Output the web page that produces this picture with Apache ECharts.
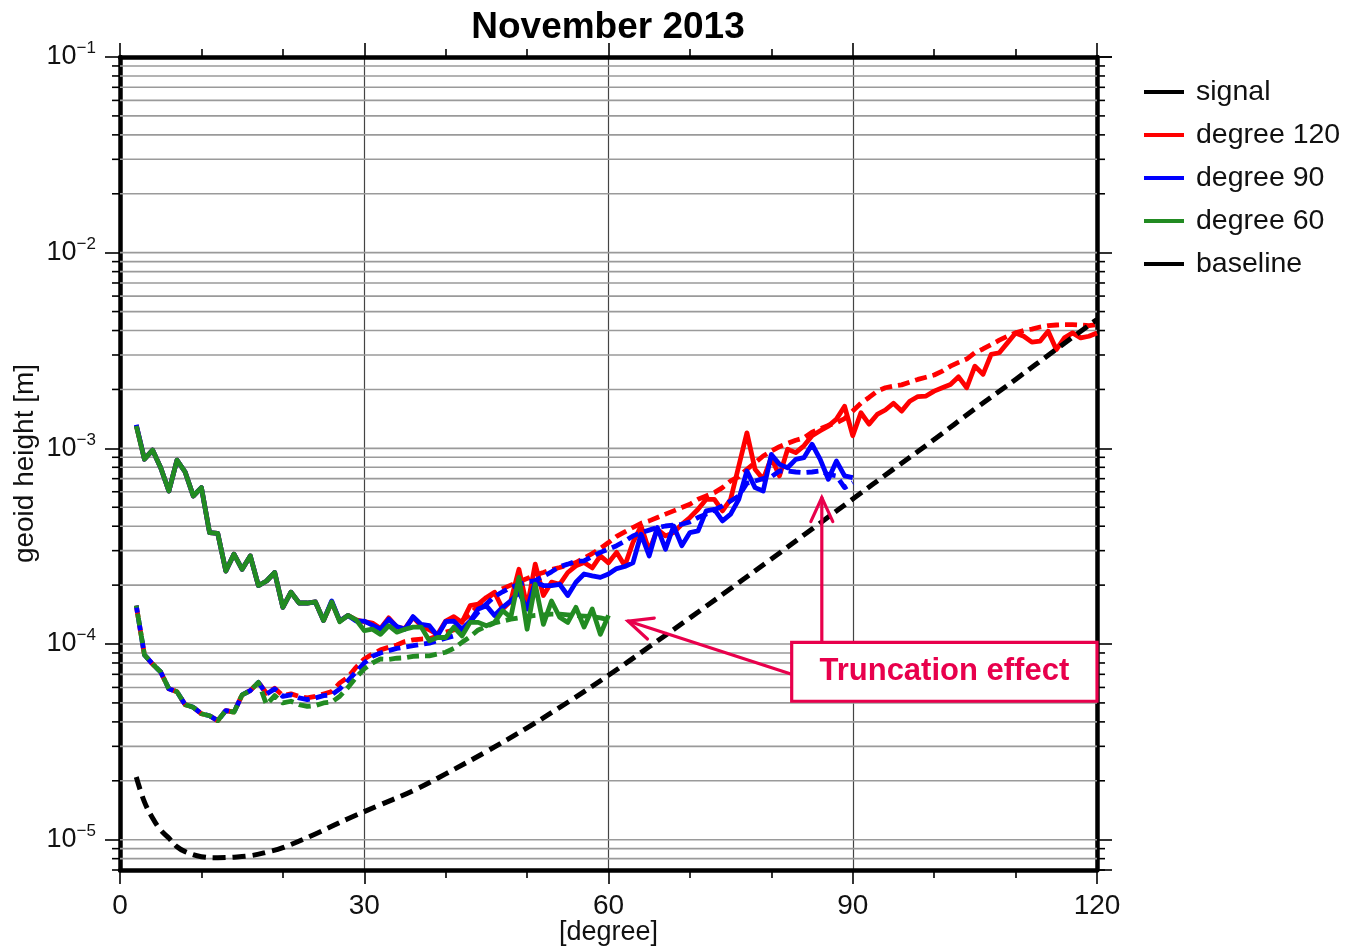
<!DOCTYPE html>
<html><head><meta charset="utf-8">
<script src="https://cdn.jsdelivr.net/npm/echarts@6/dist/echarts.min.js"></script>
<style>html,body{margin:0;padding:0;background:#fff}#chart{width:1345px;height:949px}</style>
</head><body><div id="chart"></div>
<script>
const titleText = 'November 2013';
const xAxisName = '[degree]';
const yAxisName = 'geoid height [m]';
const xTickLabels = ['0', '30', '60', '90', '120'];
const legendNames = ['signal', 'degree 120', 'degree 90', 'degree 60', 'baseline'];
const annotationText = 'Truncation effect';

const DEG_START = 2;
// solid curves (signal) for each truncation degree, values from degree 2
const sig120 = [
  1.31e-3, 8.8e-4, 9.8e-4, 7.96e-4, 6.05e-4, 8.7e-4, 7.57e-4, 5.71e-4,
  6.3e-4, 3.71e-4, 3.68e-4, 2.36e-4, 2.88e-4, 2.41e-4, 2.82e-4, 1.99e-4, 2.1e-4, 2.32e-4,
  1.54e-4, 1.84e-4, 1.62e-4, 1.62e-4, 1.64e-4, 1.32e-4, 1.64e-4, 1.31e-4, 1.40e-4, 1.33e-4,
  1.30e-4, 1.28e-4, 1.20e-4, 1.36e-4, 1.22e-4, 1.20e-4, 1.37e-4, 1.24e-4, 1.18e-4, 1.12e-4,
  1.31e-4, 1.38e-4, 1.29e-4, 1.57e-4, 1.60e-4, 1.73e-4, 1.84e-4, 1.51e-4, 1.66e-4, 2.41e-4,
  1.54e-4, 2.56e-4, 1.77e-4, 2.07e-4, 2.02e-4, 2.32e-4, 2.51e-4, 2.61e-4, 2.45e-4, 2.82e-4,
  2.60e-4, 2.94e-4, 2.51e-4, 3.30e-4, 4.01e-4, 2.99e-4, 3.86e-4, 3.57e-4, 3.71e-4, 4.09e-4,
  4.43e-4, 4.88e-4, 5.49e-4, 5.49e-4, 4.79e-4, 5.49e-4, 8.12e-4, 1.20e-3, 7.82e-4, 6.95e-4,
  8.96e-4, 7.23e-4, 9.89e-4, 9.51e-4, 1.03e-3, 1.16e-3, 1.23e-3, 1.30e-3, 1.41e-3, 1.64e-3,
  1.16e-3, 1.52e-3, 1.33e-3, 1.49e-3, 1.57e-3, 1.70e-3, 1.55e-3, 1.74e-3, 1.84e-3, 1.85e-3,
  1.96e-3, 2.04e-3, 2.12e-3, 2.32e-3, 2.04e-3, 2.63e-3, 2.39e-3, 3.02e-3, 3.08e-3, 3.46e-3,
  3.89e-3, 3.74e-3, 3.49e-3, 3.53e-3, 3.97e-3, 3.20e-3, 3.67e-3, 3.89e-3, 3.67e-3, 3.74e-3, 3.89e-3
];
const err120 = [
  1.57e-4, 8.8e-5, 7.9e-5, 7.2e-5, 5.9e-5, 5.7e-5, 4.9e-5, 4.75e-5,
  4.4e-5, 4.3e-5, 4.06e-5, 4.57e-5, 4.48e-5, 5.5e-5, 5.78e-5, 6.37e-5, 5.6e-5, 5.94e-5,
  5.45e-5, 5.56e-5, 5.4e-5, 5.3e-5, 5.4e-5, 5.55e-5, 5.71e-5, 6.33e-5, 6.76e-5, 7.6e-5,
  8.39e-5, 8.89e-5, 9.33e-5, 9.62e-5, 9.89e-5, 1.03e-4, 1.05e-4, 1.06e-4, 1.065e-4, 1.10e-4,
  1.15e-4, 1.18e-4, 1.31e-4, 1.42e-4, 1.57e-4, 1.70e-4, 1.82e-4, 1.92e-4, 2.00e-4, 2.08e-4,
  2.16e-4, 2.25e-4, 2.32e-4, 2.40e-4, 2.46e-4, 2.53e-4, 2.61e-4, 2.75e-4, 2.90e-4, 3.08e-4,
  3.30e-4, 3.55e-4, 3.74e-4, 3.94e-4, 4.14e-4, 4.26e-4, 4.43e-4, 4.61e-4, 4.79e-4, 4.98e-4,
  5.18e-4, 5.49e-4, 5.71e-4, 5.94e-4, 6.30e-4, 6.81e-4, 7.16e-4, 7.81e-4, 8.45e-4, 9.14e-4,
  9.69e-4, 1.02e-3, 1.06e-3, 1.10e-3, 1.13e-3, 1.21e-3, 1.26e-3, 1.31e-3, 1.35e-3, 1.42e-3,
  1.55e-3, 1.70e-3, 1.82e-3, 1.96e-3, 2.04e-3, 2.08e-3, 2.11e-3, 2.18e-3, 2.25e-3, 2.31e-3,
  2.37e-3, 2.48e-3, 2.63e-3, 2.75e-3, 2.86e-3, 3.08e-3, 3.22e-3, 3.39e-3, 3.57e-3, 3.74e-3,
  3.89e-3, 4.00e-3, 4.07e-3, 4.17e-3, 4.24e-3, 4.27e-3, 4.29e-3, 4.29e-3, 4.27e-3, 4.24e-3, 4.29e-3
];
const sig90 = [
  1.32e-3, 8.8e-4, 9.8e-4, 7.96e-4, 6.05e-4, 8.7e-4, 7.57e-4, 5.71e-4,
  6.3e-4, 3.71e-4, 3.68e-4, 2.36e-4, 2.88e-4, 2.41e-4, 2.82e-4, 1.99e-4, 2.1e-4, 2.32e-4,
  1.54e-4, 1.84e-4, 1.62e-4, 1.62e-4, 1.64e-4, 1.32e-4, 1.66e-4, 1.31e-4, 1.40e-4, 1.31e-4,
  1.31e-4, 1.25e-4, 1.19e-4, 1.34e-4, 1.23e-4, 1.19e-4, 1.38e-4, 1.26e-4, 1.24e-4, 1.10e-4,
  1.30e-4, 1.31e-4, 1.19e-4, 1.31e-4, 1.51e-4, 1.57e-4, 1.40e-4, 1.54e-4, 1.66e-4, 1.84e-4,
  1.51e-4, 2.07e-4, 1.99e-4, 1.99e-4, 2.02e-4, 1.77e-4, 2.07e-4, 2.28e-4, 2.23e-4, 2.19e-4,
  2.28e-4, 2.43e-4, 2.49e-4, 2.60e-4, 3.64e-4, 2.82e-4, 3.94e-4, 3.05e-4, 4.01e-4, 3.18e-4,
  3.71e-4, 3.79e-4, 4.79e-4, 4.88e-4, 4.26e-4, 4.61e-4, 5.49e-4, 7.66e-4, 6.30e-4, 6.05e-4,
  9.31e-4, 8.28e-4, 7.96e-4, 8.79e-4, 8.96e-4, 1.05e-3, 8.79e-4, 6.95e-4, 8.61e-4, 7.23e-4, 7.08e-4
];
const err90 = [
  1.57e-4, 8.8e-5, 7.9e-5, 7.2e-5, 5.9e-5, 5.7e-5, 4.9e-5, 4.75e-5,
  4.4e-5, 4.3e-5, 4.06e-5, 4.57e-5, 4.48e-5, 5.5e-5, 5.78e-5, 6.37e-5, 5.55e-5, 5.9e-5,
  5.4e-5, 5.5e-5, 5.3e-5, 5.2e-5, 5.3e-5, 5.45e-5, 5.5e-5, 5.9e-5, 6.5e-5, 7.2e-5,
  8.0e-5, 8.65e-5, 9.0e-5, 9.25e-5, 9.5e-5, 9.66e-5, 9.8e-5, 9.97e-5, 1.01e-4, 1.04e-4,
  1.07e-4, 1.10e-4, 1.18e-4, 1.30e-4, 1.46e-4, 1.60e-4, 1.75e-4, 1.85e-4, 1.94e-4, 2.02e-4,
  2.07e-4, 2.11e-4, 2.22e-4, 2.34e-4, 2.48e-4, 2.56e-4, 2.65e-4, 2.66e-4, 2.80e-4, 2.94e-4,
  3.05e-4, 3.18e-4, 3.35e-4, 3.57e-4, 3.71e-4, 3.82e-4, 3.94e-4, 4.01e-4, 4.05e-4, 4.09e-4,
  4.21e-4, 4.43e-4, 4.61e-4, 4.84e-4, 5.08e-4, 5.38e-4, 5.71e-4, 6.63e-4, 6.81e-4, 7.00e-4,
  7.16e-4, 7.66e-4, 7.66e-4, 7.57e-4, 7.51e-4, 7.57e-4, 7.66e-4, 7.36e-4, 7.23e-4, 6.30e-4, 6.68e-4
];
const sig60 = [
  1.30e-3, 8.8e-4, 9.8e-4, 7.96e-4, 6.05e-4, 8.7e-4, 7.57e-4, 5.71e-4,
  6.3e-4, 3.71e-4, 3.68e-4, 2.36e-4, 2.88e-4, 2.41e-4, 2.82e-4, 1.99e-4, 2.1e-4, 2.32e-4,
  1.54e-4, 1.84e-4, 1.62e-4, 1.62e-4, 1.64e-4, 1.32e-4, 1.64e-4, 1.30e-4, 1.40e-4, 1.33e-4,
  1.17e-4, 1.19e-4, 1.12e-4, 1.24e-4, 1.15e-4, 1.19e-4, 1.22e-4, 1.22e-4, 1.04e-4, 1.08e-4,
  1.08e-4, 1.22e-4, 1.10e-4, 1.29e-4, 1.29e-4, 1.24e-4, 1.29e-4, 1.48e-4, 1.37e-4, 2.19e-4,
  1.19e-4, 2.02e-4, 1.26e-4, 1.66e-4, 1.37e-4, 1.29e-4, 1.54e-4, 1.22e-4, 1.51e-4, 1.12e-4, 1.40e-4
];
const err60 = [
  1.57e-4, 8.8e-5, 7.9e-5, 7.2e-5, 5.9e-5, 5.7e-5, 4.9e-5, 4.75e-5,
  4.4e-5, 4.3e-5, 4.06e-5, 4.57e-5, 4.48e-5, 5.5e-5, 5.78e-5, 6.37e-5, 4.9e-5, 5.45e-5,
  5.0e-5, 5.1e-5, 4.9e-5, 4.8e-5, 4.85e-5, 5.0e-5, 5.05e-5, 5.41e-5, 6.0e-5, 6.76e-5,
  7.46e-5, 8.0e-5, 8.39e-5, 8.35e-5, 8.46e-5, 8.5e-5, 8.65e-5, 8.7e-5, 8.7e-5, 8.89e-5,
  9.08e-5, 9.5e-5, 1.02e-4, 1.09e-4, 1.18e-4, 1.23e-4, 1.28e-4, 1.31e-4, 1.34e-4, 1.36e-4,
  1.38e-4, 1.40e-4, 1.41e-4, 1.42e-4, 1.42e-4, 1.41e-4, 1.40e-4, 1.39e-4, 1.38e-4, 1.36e-4, 1.33e-4
];
// baseline (black dashed), sampled degrees and values
const baselineDeg = [2, 3, 4, 5, 6, 7, 8, 10, 12, 14, 16, 18, 20, 24, 28, 32, 36, 40, 45, 50, 55, 60, 65, 70, 75, 80, 85, 90, 95, 100, 105, 110, 115, 120];
const baselineVal = [2.09e-5, 1.56e-5, 1.29e-5, 1.12e-5, 1.02e-5, 9.2e-6, 8.69e-6, 8.19e-6, 8.09e-6, 8.14e-6, 8.28e-6, 8.63e-6, 9.1e-6, 1.07e-5, 1.28e-5, 1.51e-5, 1.78e-5, 2.17e-5, 2.82e-5, 3.73e-5, 5.04e-5, 6.92e-5, 9.68e-5, 1.36e-4, 1.92e-4, 2.72e-4, 3.87e-4, 5.51e-4, 7.83e-4, 1.11e-3, 1.59e-3, 2.25e-3, 3.21e-3, 4.56e-3];

// annotation anchors in data space [degree, value]
const boxCorners = [[82.5, 1.02e-4], [120, 5.1e-5]];
const arrowUp = [[86.2, 1.02e-4], [86.2, 5.6e-4]];
const arrowLeft = [[82.5, 7.0e-5], [62.4, 1.31e-4]];

const X_MIN = 0, X_MAX = 120, Y_MIN = 7e-6, Y_MAX = 0.1;
const FONT = '"Liberation Sans", Arial, Helvetica, sans-serif';
const RED = '#ff0000', BLUE = '#0000ff', GREEN = '#228b22', BLACK = '#000000', PINK = '#e8004c';

function pairs(start, arr) { return arr.map((v, i) => [start + i, v]); }

// horizontal grid values (1..9 x 10^n) inside the axis range
const gridValues = [];
for (let e = -6; e <= -2; e++) {
  for (let m = 1; m <= 9; m++) {
    const v = parseFloat((m * Math.pow(10, e)).toPrecision(3));
    if (v >= Y_MIN * 0.999 && v <= Y_MAX) gridValues.push(v);
  }
}
gridValues.push(0.1);

const chart = echarts.init(document.getElementById('chart'), null, { renderer: 'canvas' });

function lineSeries(name, data, color, dash, width, offset) {
  return {
    name: name, type: 'line', data: data, xAxisIndex: 0, yAxisIndex: 0,
    showSymbol: false, symbol: 'none', animation: false, z: 3,
    itemStyle: { color: color },
    lineStyle: { color: color, width: width || 4.8, type: dash || 'solid', dashOffset: offset || 0, cap: 'butt', join: 'round' }
  };
}

const series = [
  {
    type: 'custom', xAxisIndex: 0, yAxisIndex: 0, silent: true, z: 1, animation: false,
    data: gridValues.map(v => [X_MIN, v]),
    renderItem: function (params, api) {
      const v = api.value(1);
      const a = api.coord([X_MIN, v]);
      const b = api.coord([X_MAX, v]);
      const lg = Math.log10(v);
      const isMajor = Math.abs(lg - Math.round(lg)) < 1e-6;
      const children = [];
      if (v > Y_MIN * 1.001 && v < Y_MAX * 0.999) {
        children.push({ type: 'line', shape: { x1: a[0], y1: a[1], x2: b[0], y2: b[1] }, style: { stroke: '#9a9a9a', lineWidth: 1.6 } });
      }
      if (!isMajor) {
        children.push({ type: 'line', shape: { x1: a[0] - 8, y1: a[1], x2: a[0], y2: a[1] }, style: { stroke: '#000', lineWidth: 1.6 } });
        children.push({ type: 'line', shape: { x1: b[0], y1: b[1], x2: b[0] + 8, y2: b[1] }, style: { stroke: '#000', lineWidth: 1.6 } });
      }
      return { type: 'group', children: children };
    }
  },
  { name: 'signal', type: 'line', data: [], itemStyle: { color: BLACK }, lineStyle: { color: BLACK, width: 4 }, showSymbol: false, symbol: 'none' },
  lineSeries('degree 120', pairs(DEG_START, err120), RED, [12, 6], 4.8, 0),
  lineSeries('degree 120', pairs(DEG_START, sig120), RED),
  lineSeries('degree 90', pairs(DEG_START, err90), BLUE, [12, 6], 4.8, 5),
  lineSeries('degree 90', pairs(DEG_START, sig90), BLUE),
  lineSeries('degree 60', pairs(DEG_START, err60), GREEN, [12, 6], 4.8, 10),
  lineSeries('degree 60', pairs(DEG_START, sig60), GREEN),
  Object.assign(lineSeries('baseline', baselineDeg.map((d, i) => [d, baselineVal[i]]), BLACK, [13, 7], 5), { smooth: 0.4 })
];

const xAxisCommon = {
  type: 'value', min: X_MIN, max: X_MAX, interval: 30,
  axisLine: { show: true, onZero: false, lineStyle: { color: '#000', width: 4.5 } },
  axisTick: { show: true, length: 14, lineStyle: { color: '#000', width: 1.6 } },
  minorTick: { show: true, splitNumber: 3, length: 8, lineStyle: { color: '#000', width: 1.6 } }
};
const yAxisCommon = {
  type: 'log', logBase: 10, min: Y_MIN, max: Y_MAX,
  axisLine: { show: true, onZero: false, lineStyle: { color: '#000', width: 4.5 } },
  axisTick: { show: true, length: 15, lineStyle: { color: '#000', width: 1.6 } },
  splitLine: { show: false }, minorTick: { show: false }, minorSplitLine: { show: false }
};

const option = {
  animation: false,
  backgroundColor: '#ffffff',
  title: {
    text: titleText, left: 603, top: 4, textAlign: 'center',
    textStyle: { fontSize: 37, fontWeight: 'bold', color: '#000', fontFamily: FONT }
  },
  legend: {
    orient: 'vertical', left: 1142, top: 77, padding: 0, itemWidth: 40, itemHeight: 4, itemGap: 13,
    data: legendNames, selectedMode: false,
    lineStyle: { type: 'solid', width: 4 },
    textStyle: { fontSize: 28.5, lineHeight: 30, color: '#111', fontFamily: FONT, padding: [0, 0, 0, 7] }
  },
  grid: { left: 120, right: 248, top: 57, bottom: 79, containLabel: false, outerBoundsMode: 'none' },
  xAxis: [
    Object.assign({}, xAxisCommon, {
      position: 'bottom',
      splitLine: { show: true, lineStyle: { color: '#444', width: 1.2 } },
      axisLabel: {
        margin: 22, fontSize: 28, color: '#111', fontFamily: FONT,
        formatter: function (v) { const i = Math.round(v / 30); return xTickLabels[i] !== undefined ? xTickLabels[i] : ''; }
      },
      name: xAxisName, nameLocation: 'middle', nameGap: 49, nameMoveOverlap: false,
      nameTextStyle: { fontSize: 27, color: '#111', fontFamily: FONT }
    }),
    Object.assign({}, xAxisCommon, {
      position: 'top', axisLabel: { show: false }, splitLine: { show: false }
    })
  ],
  yAxis: [
    Object.assign({}, yAxisCommon, {
      position: 'left',
      axisLabel: {
        margin: 24, showMinLabel: false, fontFamily: FONT,
        formatter: function (v) {
          const e = Math.round(Math.log10(v));
          return '{b|10}{s|\u2212' + Math.abs(e) + '}';
        },
        rich: {
          b: { fontSize: 27, color: '#111', fontFamily: FONT, lineHeight: 34 },
          s: { fontSize: 17, color: '#111', fontFamily: FONT, verticalAlign: 'top', lineHeight: 20 }
        }
      },
      name: yAxisName, nameLocation: 'middle', nameGap: 81, nameMoveOverlap: false,
      nameTextStyle: { fontSize: 28, color: '#111', fontFamily: FONT }
    }),
    Object.assign({}, yAxisCommon, { position: 'right', axisLabel: { show: false } })
  ],
  series: series
};

chart.setOption(option);

// annotation placed through the chart's own scales
function px(p) { return chart.convertToPixel({ seriesIndex: 3 }, p); }
function arrowEls(fromD, toD) {
  const f = px(fromD), t = px(toD);
  const dx = t[0] - f[0], dy = t[1] - f[1];
  const len = Math.hypot(dx, dy), ux = dx / len, uy = dy / len;
  const h = 24, w = 11;
  const bx = t[0] - ux * h, by = t[1] - uy * h;
  const l = [bx - uy * w, by + ux * w], r = [bx + uy * w, by - ux * w];
  const st = { stroke: PINK, lineWidth: 3.2, fill: null, lineCap: 'round', lineJoin: 'miter' };
  return [
    { type: 'line', shape: { x1: f[0], y1: f[1], x2: t[0], y2: t[1] }, style: st, z: 100 },
    { type: 'polyline', shape: { points: [l, t, r] }, style: st, z: 100 }
  ];
}
const tl = px(boxCorners[0]), br = px(boxCorners[1]);
chart.setOption({
  graphic: [].concat(
    arrowEls(arrowUp[0], arrowUp[1]),
    arrowEls(arrowLeft[0], arrowLeft[1]),
    [
      { type: 'rect', z: 101, shape: { x: tl[0], y: tl[1], width: br[0] - tl[0], height: br[1] - tl[1] },
        style: { fill: '#fff', stroke: PINK, lineWidth: 3.2 } },
      { type: 'text', z: 102, x: (tl[0] + br[0]) / 2, y: (tl[1] + br[1]) / 2,
        style: { text: annotationText, fill: PINK, font: 'bold 31px ' + FONT, align: 'center', verticalAlign: 'middle' } }
    ]
  )
});
</script></body></html>
